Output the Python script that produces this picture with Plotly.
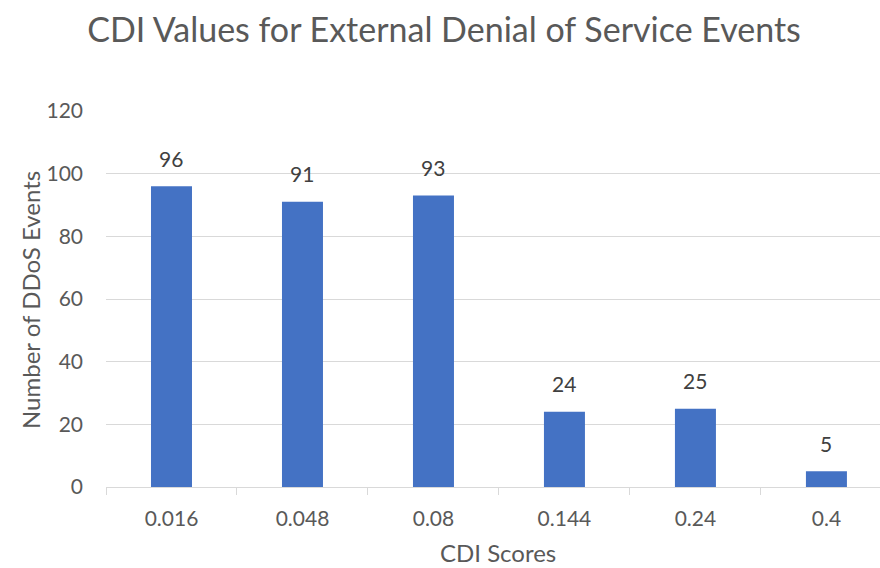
import plotly.graph_objects as go

categories = ["0.016", "0.048", "0.08", "0.144", "0.24", "0.4"]
events = [96, 91, 93, 24, 25, 5]
y_ticks = [0, 20, 40, 60, 80, 100, 120]

GREY = "#595959"
FONT = "Lato, Open Sans, sans-serif"

fig = go.Figure()
fig.add_trace(go.Bar(
    x=categories, y=events,
    marker=dict(color="#4472C4", line=dict(width=0)),
    hoverinfo="x+y",
))

for i, v in enumerate(events):
    fig.add_annotation(x=i, y=v, text=str(v), showarrow=False,
                       yanchor="middle", yshift=28,
                       font=dict(family=FONT, size=21, color="#404040"))

# axis titles
fig.add_annotation(text="CDI Scores", xref="paper", yref="paper",
                   x=0, y=0, xshift=392, yshift=-65,
                   xanchor="center", yanchor="middle", showarrow=False,
                   borderpad=0,
                   font=dict(family=FONT, size=24, color=GREY))
fig.add_annotation(text="Number of DDoS Events", xref="paper", yref="paper",
                   x=0, y=0.5, xshift=-76, yshift=-1, textangle=-90,
                   xanchor="center", yanchor="middle", showarrow=False,
                   font=dict(family=FONT, size=24, color=GREY))

fig.update_layout(
    width=880, height=568,
    margin=dict(l=106, r=0, t=111, b=81),
    paper_bgcolor="white", plot_bgcolor="white",
    bargap=0.687,
    showlegend=False,
    font=dict(family=FONT, color=GREY),
    title=dict(text="CDI Values for External Denial of Service Events",
               x=444 / 880, xanchor="center", y=1 - 30 / 568, yanchor="middle",
               xref="container", yref="container",
               font=dict(family=FONT, size=34, color=GREY)),
    xaxis=dict(
        type="category", categoryorder="array", categoryarray=categories,
        range=[-0.5, 5.409], automargin=False,
        showline=True, linecolor="#D9D9D9", linewidth=1,
        ticks="outside", tickson="boundaries", ticklen=7, tickcolor="#D9D9D9",
        ticklabelstandoff=13,
        tickfont=dict(family=FONT, size=21, color=GREY),
        showgrid=False, zeroline=False,
    ),
    yaxis=dict(
        range=[0, 120], tickvals=y_ticks, automargin=False,
        showgrid=True, gridcolor="#D9D9D9", gridwidth=1,
        zeroline=False, showline=False, ticks="",
        ticklabelstandoff=22,
        tickfont=dict(family=FONT, size=21, color=GREY),
    ),
)

fig.write_html("out.html", config={"displayModeBar": False},
               post_script="document.body.style.margin='0';")
